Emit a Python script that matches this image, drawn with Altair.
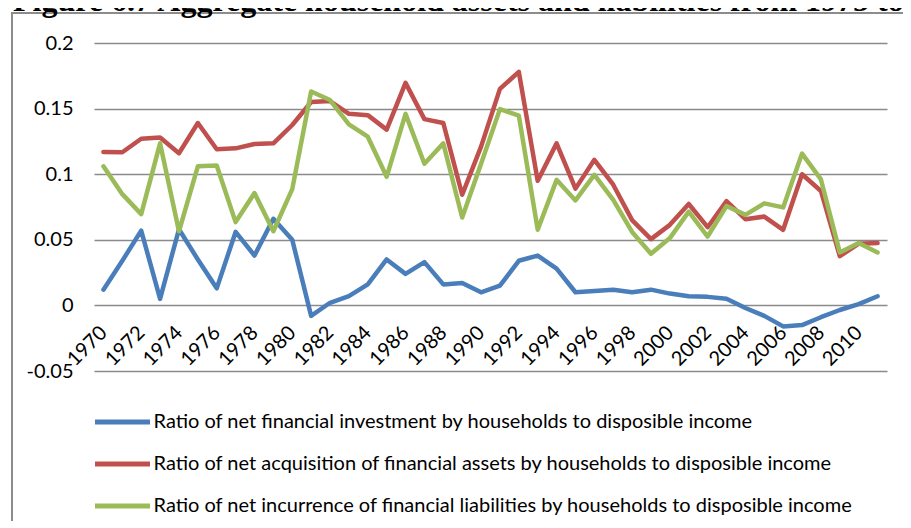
import altair as alt
import pandas as pd

years = list(range(1970, 2012))

net_investment = [
    0.012, 0.034, 0.057, 0.005, 0.058, 0.035, 0.013, 0.056, 0.038, 0.066,
    0.050, -0.008, 0.002, 0.007, 0.016, 0.035, 0.024, 0.033, 0.016, 0.017,
    0.010, 0.015, 0.034, 0.038, 0.028, 0.010, 0.011, 0.012, 0.010, 0.012,
    0.009, 0.007, 0.0065, 0.005, -0.002, -0.008, -0.016, -0.015, -0.009, -0.0035,
    0.001, 0.007,
]
net_assets = [
    0.117, 0.1167, 0.127, 0.128, 0.116, 0.139, 0.119, 0.1197, 0.123, 0.1235,
    0.1375, 0.155, 0.1557, 0.146, 0.145, 0.134, 0.1696, 0.142, 0.139, 0.0843,
    0.121, 0.165, 0.178, 0.095, 0.1235, 0.089, 0.111, 0.092, 0.065, 0.0505,
    0.0614, 0.0773, 0.0596, 0.0795, 0.0657, 0.0677, 0.0576, 0.100, 0.0872, 0.0375,
    0.047, 0.0475,
]
net_liabilities = [
    0.106, 0.0848, 0.0696, 0.1235, 0.0565, 0.106, 0.1066, 0.0635, 0.0856, 0.0565,
    0.0886, 0.163, 0.1565, 0.138, 0.1286, 0.098, 0.146, 0.108, 0.1235, 0.067,
    0.108, 0.1496, 0.1446, 0.0577, 0.0957, 0.080, 0.0995, 0.0805, 0.056, 0.0394,
    0.0513, 0.0715, 0.0525, 0.0758, 0.069, 0.0778, 0.0747, 0.1157, 0.096, 0.0404,
    0.0475, 0.0404,
]

series_names = [
    "Ratio of net financial investment by households to disposible income",
    "Ratio of net acquisition of financial assets by households to disposible income",
    "Ratio of net incurrence of financial liabilities by households to disposible income",
]
series_colors = ["#4A7EBB", "#C0504D", "#9BBB59"]
x_tick_years = list(range(1970, 2011, 2))
y_tick_values = [-0.05, 0, 0.05, 0.1, 0.15, 0.2]
title_text = ["Figure 6.7 Aggregate household assets and liabilities from 1975 to"]

rows = []
for name, vals in zip(series_names, [net_investment, net_assets, net_liabilities]):
    for yr, v in zip(years, vals):
        rows.append({"year": yr, "value": v, "series": name})
df = pd.DataFrame(rows)
title_df = pd.DataFrame({"t": title_text})
one = pd.DataFrame({"k": [0]})

FONT = "Lato, 'Liberation Sans', sans-serif"
W, H = 793, 328

lines = alt.Chart(df).mark_line(
    strokeWidth=4.5, strokeJoin="round", strokeCap="round"
).encode(
    x=alt.X(
        "year:Q",
        scale=alt.Scale(domain=[1969.5, 2011.5], nice=False, zero=False),
        axis=alt.Axis(
            values=x_tick_years, format="d", title=None, grid=False,
            domain=False, ticks=False, labelAngle=-45, labelAlign="right",
            labelBaseline="middle", labelPadding=24, offset=-65.6,
            labelOverlap=False, labelFlush=False, labelBound=False,
            labelFont=FONT, labelFontSize=20, labelColor="#000000",
        ),
    ),
    y=alt.Y(
        "value:Q",
        scale=alt.Scale(domain=[-0.05, 0.2], nice=False, zero=False),
        axis=alt.Axis(
            values=y_tick_values, title=None, domain=False, ticks=False,
            labelExpr="toString(datum.value)", labelPadding=21,
            labelFont=FONT, labelFontSize=20, labelColor="#000000",
            gridColor="#8a8a8a", gridWidth=1.6,
        ),
    ),
    color=alt.Color(
        "series:N",
        scale=alt.Scale(domain=series_names, range=series_colors),
        legend=alt.Legend(
            title=None, orient="none", legendX=-1.5, legendY=349,
            direction="vertical", symbolType="stroke", symbolSize=3025,
            symbolStrokeWidth=5, labelFont=FONT, labelFontSize=20,
            labelColor="#000000", labelLimit=2000, labelOffset=1,
            rowPadding=2, padding=0,
        ),
    ),
)

frame_h = alt.Chart(one).mark_rule(color="#8c8c8c", strokeWidth=2).encode(
    x=alt.value(-82), x2=alt.value(830), y=alt.value(-30)
)
frame_v = alt.Chart(one).mark_rule(color="#8c8c8c", strokeWidth=2).encode(
    x=alt.value(-82), y=alt.value(-31), y2=alt.value(500)
)
title = alt.Chart(title_df).mark_text(
    align="left", baseline="alphabetic",
    font="'Liberation Serif', 'Times New Roman', serif",
    fontSize=32, fontWeight="bold", color="#000000",
).encode(x=alt.value(-81), y=alt.value(-32), text="t:N")

chart = alt.layer(frame_h, frame_v, title, lines).properties(
    width=W,
    height=H,
    autosize=alt.AutoSizeParams(type="none"),
    padding={"left": 86, "top": 35, "right": 16, "bottom": 150},
).configure_view(stroke=None)

chart.save("out.html", embed_options={"renderer": "svg", "actions": False})
